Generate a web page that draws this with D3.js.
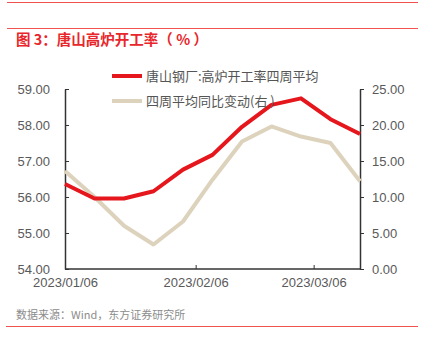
<!DOCTYPE html>
<html>
<head>
<meta charset="utf-8">
<script src="https://cdn.jsdelivr.net/npm/d3@7"></script>
<style>
  html, body { margin: 0; padding: 0; background: #fff; }
  svg { display: block; font-family: "Liberation Sans", "Noto Sans CJK SC", sans-serif; }
</style>
</head>
<body>
<svg id="chart" width="423" height="347"></svg>
<script>
// Weekly dates (Fridays)
const dates = ["2023-01-06","2023-01-13","2023-01-20","2023-01-27","2023-02-03","2023-02-10",
               "2023-02-17","2023-02-24","2023-03-03","2023-03-10","2023-03-17"];
// 唐山钢厂:高炉开工率四周平均 (left axis, %)
const rateAvg = [56.36, 55.96, 55.96, 56.16, 56.76, 57.17, 57.95, 58.56, 58.74, 58.16, 57.75];
// 四周平均同比变动 (right axis)
const yoyChange = [13.6, 10.0, 6.0, 3.4, 6.6, 12.4, 17.7, 19.8, 18.4, 17.5, 12.2];
const leftTicks = [54, 55, 56, 57, 58, 59];
const rightTicks = [0, 5, 10, 15, 20, 25];
const xTickDates = ["2023-01-06", "2023-02-06", "2023-03-06"];
const seriesNames = ["唐山钢厂:高炉开工率四周平均", "四周平均同比变动(右 )"];
const titleText = "图 3：唐山高炉开工率（ % ）";
const sourceText = "数据来源：Wind，东方证券研究所";

const parse = d3.timeParse("%Y-%m-%d");
const fmtDate = d3.timeFormat("%Y/%m/%d");
const svg = d3.select("#chart");

const plotL = 65, plotR = 360, plotT = 89, plotB = 269;
const x = d3.scaleTime().domain([parse(dates[0]), parse(dates[dates.length - 1])]).range([plotL, plotR]);
const yL = d3.scaleLinear().domain([54, 59]).range([plotB, plotT]);
const yR = d3.scaleLinear().domain([0, 25]).range([plotB, plotT]);

const red = "#e5161c", beige = "#ddd3bd", axisCol = "#333", textCol = "#595959", accent = "#f0524f";

// header and footer rules
svg.append("line").attr("x1", 7).attr("x2", 418).attr("y1", 2.5).attr("y2", 2.5).attr("stroke", accent).attr("stroke-width", 1);
svg.append("line").attr("x1", 7).attr("x2", 418).attr("y1", 28.5).attr("y2", 28.5).attr("stroke", accent).attr("stroke-width", 1);
svg.append("line").attr("x1", 6).attr("x2", 418).attr("y1", 326.5).attr("y2", 326.5).attr("stroke", accent).attr("stroke-width", 1);

svg.append("text").attr("x", 16).attr("y", 45).attr("fill", "#e8262b")
  .attr("font-size", 14.5).attr("font-weight", "bold")
  .attr("font-family", "'Noto Sans CJK SC', sans-serif").text(titleText);

svg.append("text").attr("x", 16).attr("y", 319).attr("fill", "#8c8c8c")
  .attr("font-size", 11).attr("font-family", "'Noto Sans CJK SC', sans-serif").text(sourceText);

// axes
const fmt2 = d3.format(".2f");
const gL = svg.append("g").attr("transform", `translate(${plotL},0)`)
  .call(d3.axisLeft(yL).tickValues(leftTicks).tickFormat(fmt2).tickSizeInner(-4).tickSizeOuter(0).tickPadding(15));
const gR = svg.append("g").attr("transform", `translate(${plotR},0)`)
  .call(d3.axisRight(yR).tickValues(rightTicks).tickFormat(fmt2).tickSizeInner(4).tickSizeOuter(0).tickPadding(8));
const gX = svg.append("g").attr("transform", `translate(0,${plotB})`)
  .call(d3.axisBottom(x).tickValues(xTickDates.map(parse)).tickFormat(fmtDate).tickSizeInner(-4).tickSizeOuter(0).tickPadding(10));

[gL, gR, gX].forEach(g => {
  g.select(".domain").attr("stroke", axisCol).attr("stroke-width", 1.5);
  g.selectAll(".tick line").attr("stroke", axisCol).attr("stroke-width", 1);
  g.selectAll(".tick text").attr("fill", textCol).attr("font-size", 13)
    .attr("font-family", "'Liberation Sans', sans-serif");
});
gX.selectAll(".tick text").attr("y", 9).attr("dy", "0.71em");
// extend x axis line across the whole plot
gX.select(".domain").attr("d", `M${plotL},0H${plotR}`);

// series lines
const lineL = d3.line().x((d, i) => x(parse(dates[i]))).y(d => yL(d));
const lineR = d3.line().x((d, i) => x(parse(dates[i]))).y(d => yR(d));
svg.append("path").datum(yoyChange).attr("d", lineR).attr("fill", "none")
  .attr("stroke", beige).attr("stroke-width", 4).attr("stroke-linejoin", "round");
svg.append("path").datum(rateAvg).attr("d", lineL).attr("fill", "none")
  .attr("stroke", red).attr("stroke-width", 4).attr("stroke-linejoin", "round");

// legend
const legend = svg.append("g");
[[red, seriesNames[0], 76], [beige, seriesNames[1], 101]].forEach(([c, t, yy]) => {
  legend.append("line").attr("x1", 112).attr("x2", 142).attr("y1", yy).attr("y2", yy)
    .attr("stroke", c).attr("stroke-width", 4);
  legend.append("text").attr("x", 146).attr("y", yy).attr("dy", "0.36em")
    .attr("fill", "#555").attr("font-size", 13)
    .attr("font-family", "'Noto Sans CJK SC', sans-serif").text(t);
});
</script>
</body>
</html>
